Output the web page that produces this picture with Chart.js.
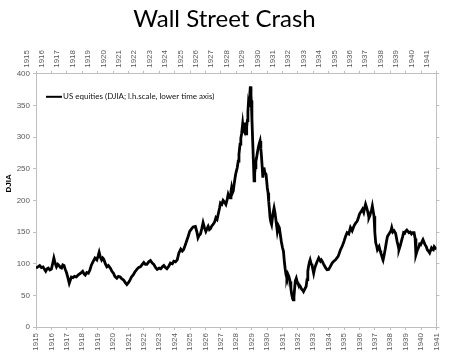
<!DOCTYPE html>
<html><head><meta charset="utf-8">
<script src="https://cdn.jsdelivr.net/npm/chart.js@4.4.1/dist/chart.umd.min.js"></script>
<style>html,body{margin:0;padding:0;background:#fff;}#wrap{width:449px;height:362px;}</style>
</head><body><div id="wrap"><canvas id="c" width="449" height="362"></canvas></div>
<script>
const chartTitle = 'Wall Street Crash';
const seriesLabel = 'US equities (DJIA; l.h.scale, lower time axis)';
const yAxisTitle = 'DJIA';
const yearMin = 1915;
const yearMax = 1941;
const yMin = 0, yMax = 400, yStep = 50;

// positions along the time axis (years) and DJIA values
const djiaYear = [
1915.00,1915.12,1915.24,1915.35,1915.46,1915.55,1915.63,1915.72,1915.80,1915.90,
1916.00,1916.08,1916.16,1916.24,1916.33,1916.42,1916.50,1916.58,1916.66,1916.74,1916.82,1916.90,1916.98,
1917.07,1917.16,1917.23,1917.30,1917.40,1917.50,1917.62,1917.75,1917.90,
1918.03,1918.12,1918.20,1918.30,1918.40,1918.50,1918.60,1918.70,1918.83,1918.95,
1919.03,1919.10,1919.18,1919.26,1919.33,1919.40,1919.50,1919.60,1919.70,1919.83,1919.93,
1920.03,1920.12,1920.25,1920.35,1920.47,1920.58,1920.70,1920.80,1920.90,
1921.00,1921.10,1921.20,1921.30,1921.42,1921.56,1921.67,1921.78,1921.90,
1922.00,1922.10,1922.20,1922.32,1922.43,1922.55,1922.65,1922.76,1922.87,
1923.00,1923.10,1923.20,1923.30,1923.40,1923.50,1923.62,1923.73,1923.85,1923.95,
1924.06,1924.17,1924.28,1924.40,1924.50,1924.58,1924.67,1924.77,1924.88,1924.98,
1925.10,1925.20,1925.35,1925.45,1925.52,1925.60,1925.68,1925.77,1925.85,1925.94,
1926.03,1926.10,1926.18,1926.26,1926.33,1926.42,1926.50,1926.60,1926.68,1926.76,1926.83,1926.92,1926.98,
1927.07,1927.15,1927.25,1927.33,1927.42,1927.48,1927.55,1927.60,1927.66,1927.70,1927.76,1927.81,1927.88,1927.96,
1928.02,1928.07,1928.13,1928.18,1928.25,1928.30,1928.35,1928.42,1928.46,1928.50,1928.54,1928.57,1928.61,1928.64,1928.68,1928.72,1928.76,1928.79,1928.82,1928.85,1928.89,1928.92,1928.96,1928.98,
1929.02,1929.07,1929.12,1929.16,1929.20,1929.24,1929.28,1929.33,1929.38,1929.44,1929.50,1929.55,1929.60,1929.64,1929.69,1929.73,1929.77,1929.80,1929.86,1929.94,
1930.02,1930.07,1930.11,1930.16,1930.20,1930.25,1930.30,1930.38,1930.46,1930.52,1930.59,1930.67,1930.74,1930.80,1930.87,1930.93,
1931.00,1931.07,1931.12,1931.18,1931.24,1931.29,1931.35,1931.42,1931.50,1931.55,1931.60,1931.66,1931.70,1931.75,1931.79,1931.84,1931.90,1931.95,
1932.00,1932.08,1932.16,1932.24,1932.32,1932.37,1932.45,1932.54,1932.60,1932.65,1932.70,1932.76,1932.80,1932.86,1932.92,1932.97,
1933.03,1933.08,1933.14,1933.25,1933.36,1933.42,1933.47,1933.53,1933.58,1933.66,1933.75,1933.82,1933.90,
1934.00,1934.10,1934.23,1934.34,1934.45,1934.53,1934.62,1934.70,1934.77,1934.85,1934.92,
1935.01,1935.10,1935.20,1935.31,1935.42,1935.53,1935.62,1935.70,1935.78,1935.85,1935.93,
1936.00,1936.07,1936.13,1936.20,1936.28,1936.34,1936.40,1936.45,1936.50,1936.56,1936.62,1936.68,1936.73,1936.79,1936.84,1936.90,1936.95,
1937.00,1937.06,1937.12,1937.17,1937.28,1937.34,1937.39,1937.46,1937.54,1937.60,1937.67,1937.75,1937.82,1937.90,1937.97,
1938.05,1938.10,1938.17,1938.25,1938.35,1938.45,1938.52,1938.57,1938.65,1938.72,1938.80,1938.87,1938.94,
1939.00,1939.08,1939.15,1939.22,1939.30,1939.38,1939.45,1939.55,1939.62,1939.67,1939.72,1939.77,1939.85,1939.91,1939.98,
1940.05,1940.13,1940.20,1940.26,1940.34,1940.41,1940.48,1940.56,1940.62,1940.68,1940.74,1940.80,1940.86,1940.90,1940.96,
1941.02
];
const djiaValue = [
93,95,97,94,95,91,88,92,93,90,
91.5,100,109,101,95,99,97,94,93,98,97,91,86,
78,69,74,79,78,80,79,82.5,85,
88,84,82,86,85,90,98,103,109,106,
112,118,110,106,109,107,100,95,97,93,88,
85,80,77,80,79,76,74,70,67,
70,74,79,82,87,91.5,94,95,99,
102,99,99,103,105,101,99,94,91,
93,92,95,97,94,92,96,101,100,104,
103,106,117,123,120,122,128,135,143,151,
155,158,159,150,141,145,147,156,165,157,
151,155,159,154,155.5,160,162,166,172.5,170,178,188,196,
194,200,197,193.7,202,209.5,205,204,214,220,212,215,228,241,
247,252,262,273,289,298,305,321,312,310,318,323,314,305,316,326,340,352,348,360,370,380,365,358,
330,294,260,231,243,252,262,268,276,284,290,294,282,270,252,236,245,252,244,241,
220,212,199,185,172.5,166,162,178,188,180,167,151,160,157,145,135,
126,119.5,105,92,82,78,84,80,72,61,52,45,43,48,60,73,77,72,
69,67,64,60,58,56,60,64,75,88,96,103,106,100,98,92,
85,91,96,103,109,106,104,106,104,100,96,93,90.5,
91,95,101,104,106,109,111.6,117,122,126,130,
136,143,149,147,157,152,158,162,165,167,172,
178,181,183,186,181,188,194,190,186,180,172.5,176,181,185,191,182,175,
150,133,128,122,127,121,117,112,106,113,122,134,143,146,149,
152,157,150,152,148,135,128,122,128,135,142,149,148,
151,153,151,149,150,147,149,149,140,114,118,122,126,131,130,
134,138,134,130,127,122,120,117,121,125,123,122,127,127,124,
123
];

const axisGrey = '#bfbfbf';
const tickText = '#595959';
const yearTick = v => String(v);

const overlay = {
  id: 'overlay',
  afterDraw(chart) {
    const ctx = chart.ctx, a = chart.chartArea;
    ctx.save();
    const ly = a.top + 23;
    ctx.strokeStyle = '#000'; ctx.lineWidth = 2;
    ctx.beginPath(); ctx.moveTo(a.left + 10, ly); ctx.lineTo(a.left + 26, ly); ctx.stroke();
    ctx.font = '8px Lato'; ctx.fillStyle = '#111';
    ctx.textBaseline = 'middle'; ctx.textAlign = 'left';
    ctx.fillText(chart.data.datasets[0].label, a.left + 27, ly);
    ctx.translate(9, (a.top + a.bottom) / 2 - 17);
    ctx.rotate(-Math.PI / 2);
    ctx.font = 'bold 8px "Liberation Sans"'; ctx.fillStyle = '#000';
    ctx.textAlign = 'center';
    ctx.fillText(yAxisTitle, 0, 0);
    ctx.restore();
  }
};

const xAxisCommon = (pos, h) => ({
  type: 'linear', position: pos, min: yearMin, max: yearMax,
  border: { color: axisGrey, width: 1 },
  grid: { drawOnChartArea: false, tickLength: 3, color: axisGrey },
  ticks: { stepSize: 1, autoSkip: false, maxRotation: 90, minRotation: 90,
           padding: 3, color: tickText, font: { family: 'Liberation Sans', size: 8 },
           callback: yearTick },
  afterFit: s => { s.height = h; }
});

new Chart(document.getElementById('c'), {
  type: 'line',
  data: {
    datasets: [{
      label: seriesLabel,
      data: djiaYear.map((t, i) => ({ x: t, y: djiaValue[i] })),
      borderColor: '#000', borderWidth: 2.8, pointRadius: 0,
      tension: 0, fill: false, xAxisID: 'x', yAxisID: 'y'
    }]
  },
  options: {
    responsive: false, animation: false, devicePixelRatio: 1,
    layout: { padding: { left: 0, right: 0, top: 0, bottom: 0 } },
    plugins: {
      legend: { display: false },
      tooltip: { enabled: false },
      title: { display: true, text: chartTitle, color: '#000',
               font: { family: 'Lato', size: 24, weight: 'normal' },
               padding: { top: 5, bottom: 3 } }
    },
    scales: {
      x: xAxisCommon('bottom', 35),
      x2: xAxisCommon('top', 37),
      y: {
        type: 'linear', position: 'left', min: yMin, max: yMax,
        border: { color: axisGrey },
        grid: { drawOnChartArea: false, tickLength: 3, color: axisGrey },
        ticks: { stepSize: yStep, padding: 3, color: tickText,
                 font: { family: 'Liberation Sans', size: 8 } },
        afterFit: s => { s.width = 36; }
      },
      y2: {
        type: 'linear', position: 'right', min: yMin, max: yMax,
        border: { color: axisGrey },
        grid: { drawOnChartArea: false, tickLength: 3, color: axisGrey },
        ticks: { stepSize: yStep, display: false },
        afterFit: s => { s.width = 12; }
      }
    }
  },
  plugins: [overlay]
});
</script>
</body></html>
